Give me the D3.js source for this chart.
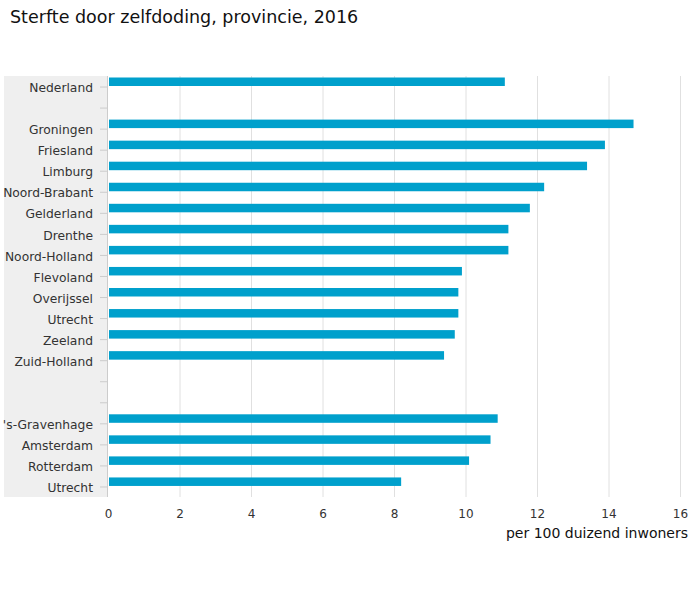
<!DOCTYPE html>
<html><head><meta charset="utf-8">
<script src="https://cdn.jsdelivr.net/npm/d3@7"></script>
<style>body{margin:0;background:#fff}svg{display:block}</style>
</head><body>
<script>
const categories = ["Nederland","_b1","Groningen","Friesland","Limburg","Noord-Brabant","Gelderland","Drenthe","Noord-Holland","Flevoland","Overijssel","Utrecht","Zeeland","Zuid-Holland","_b2","_b3","'s-Gravenhage","Amsterdam","Rotterdam","Utrecht (gem.)"];
const labels = ["Nederland","","Groningen","Friesland","Limburg","Noord-Brabant","Gelderland","Drenthe","Noord-Holland","Flevoland","Overijssel","Utrecht","Zeeland","Zuid-Holland","","","'s-Gravenhage","Amsterdam","Rotterdam","Utrecht"];
const values = [11.1,null,14.7,13.9,13.4,12.2,11.8,11.2,11.2,9.9,9.8,9.8,9.7,9.4,null,null,10.9,10.7,10.1,8.2];
const xTicks = [0,2,4,6,8,10,12,14,16];
const title = "Sterfte door zelfdoding, provincie, 2016";
const xTitle = "per 100 duizend inwoners";

const W = 700, H = 600;
const svg = d3.select("body").append("svg").attr("width", W).attr("height", H);
const font = "'DejaVu Sans', Verdana, sans-serif";

const x = d3.scaleLinear().domain([0,16]).range([108,680]);
const y = d3.scaleBand().domain(categories).range([76.5,497.5]).padding(0);

svg.append("text").attr("x",10).attr("y",23).attr("font-family",font).attr("font-size",17.5).attr("fill","#111").text(title);

// grey label background
svg.append("rect").attr("x",4).attr("y",76).attr("width",104).attr("height",421).attr("fill","#efefef");

// gridlines
svg.append("g").selectAll("line").data(xTicks.slice(1)).join("line")
  .attr("x1",d=>x(d)+0.5).attr("x2",d=>x(d)+0.5).attr("y1",76).attr("y2",497)
  .attr("stroke","#e0e0e0").attr("stroke-width",1);

// left axis line
svg.append("line").attr("x1",107.5).attr("x2",107.5).attr("y1",76).attr("y2",497).attr("stroke","#cccccc");

// y axis (labels clipped at left edge)
svg.append("clipPath").attr("id","lc").append("rect").attr("x",3).attr("y",60).attr("width",110).attr("height",450);
const yAxis = d3.axisLeft(y).tickSize(7).tickPadding(7).tickFormat((d,i)=>labels[i]);
const gy = svg.append("g").attr("clip-path","url(#lc)").append("g").attr("transform","translate(107,0)").call(yAxis);
gy.select(".domain").remove();
gy.selectAll(".tick line").attr("stroke","#cccccc");
gy.selectAll(".tick text").attr("font-family",font).attr("font-size",12.3).attr("fill","#333").attr("dy","0.42em");

// bars
svg.append("g").selectAll("rect").data(categories.map((c,i)=>({c,v:values[i]})).filter(d=>d.v!=null)).join("rect")
  .attr("x",x(0)+1).attr("y",d=>y(d.c)+1).attr("width",d=>x(d.v)-x(0)-1).attr("height",8.5)
  .attr("fill","#00a0cc");

// x axis
const xAxis = d3.axisBottom(x).tickValues(xTicks).tickSize(0).tickPadding(12).tickFormat(d3.format("d"));
const gx = svg.append("g").attr("transform","translate(0,497)").call(xAxis);
gx.select(".domain").remove();
gx.selectAll(".tick text").attr("font-family",font).attr("font-size",12).attr("fill","#333");

svg.append("text").attr("x",688).attr("y",538).attr("text-anchor","end").attr("font-family",font).attr("font-size",14).attr("fill","#111").text(xTitle);
</script>
</body></html>
